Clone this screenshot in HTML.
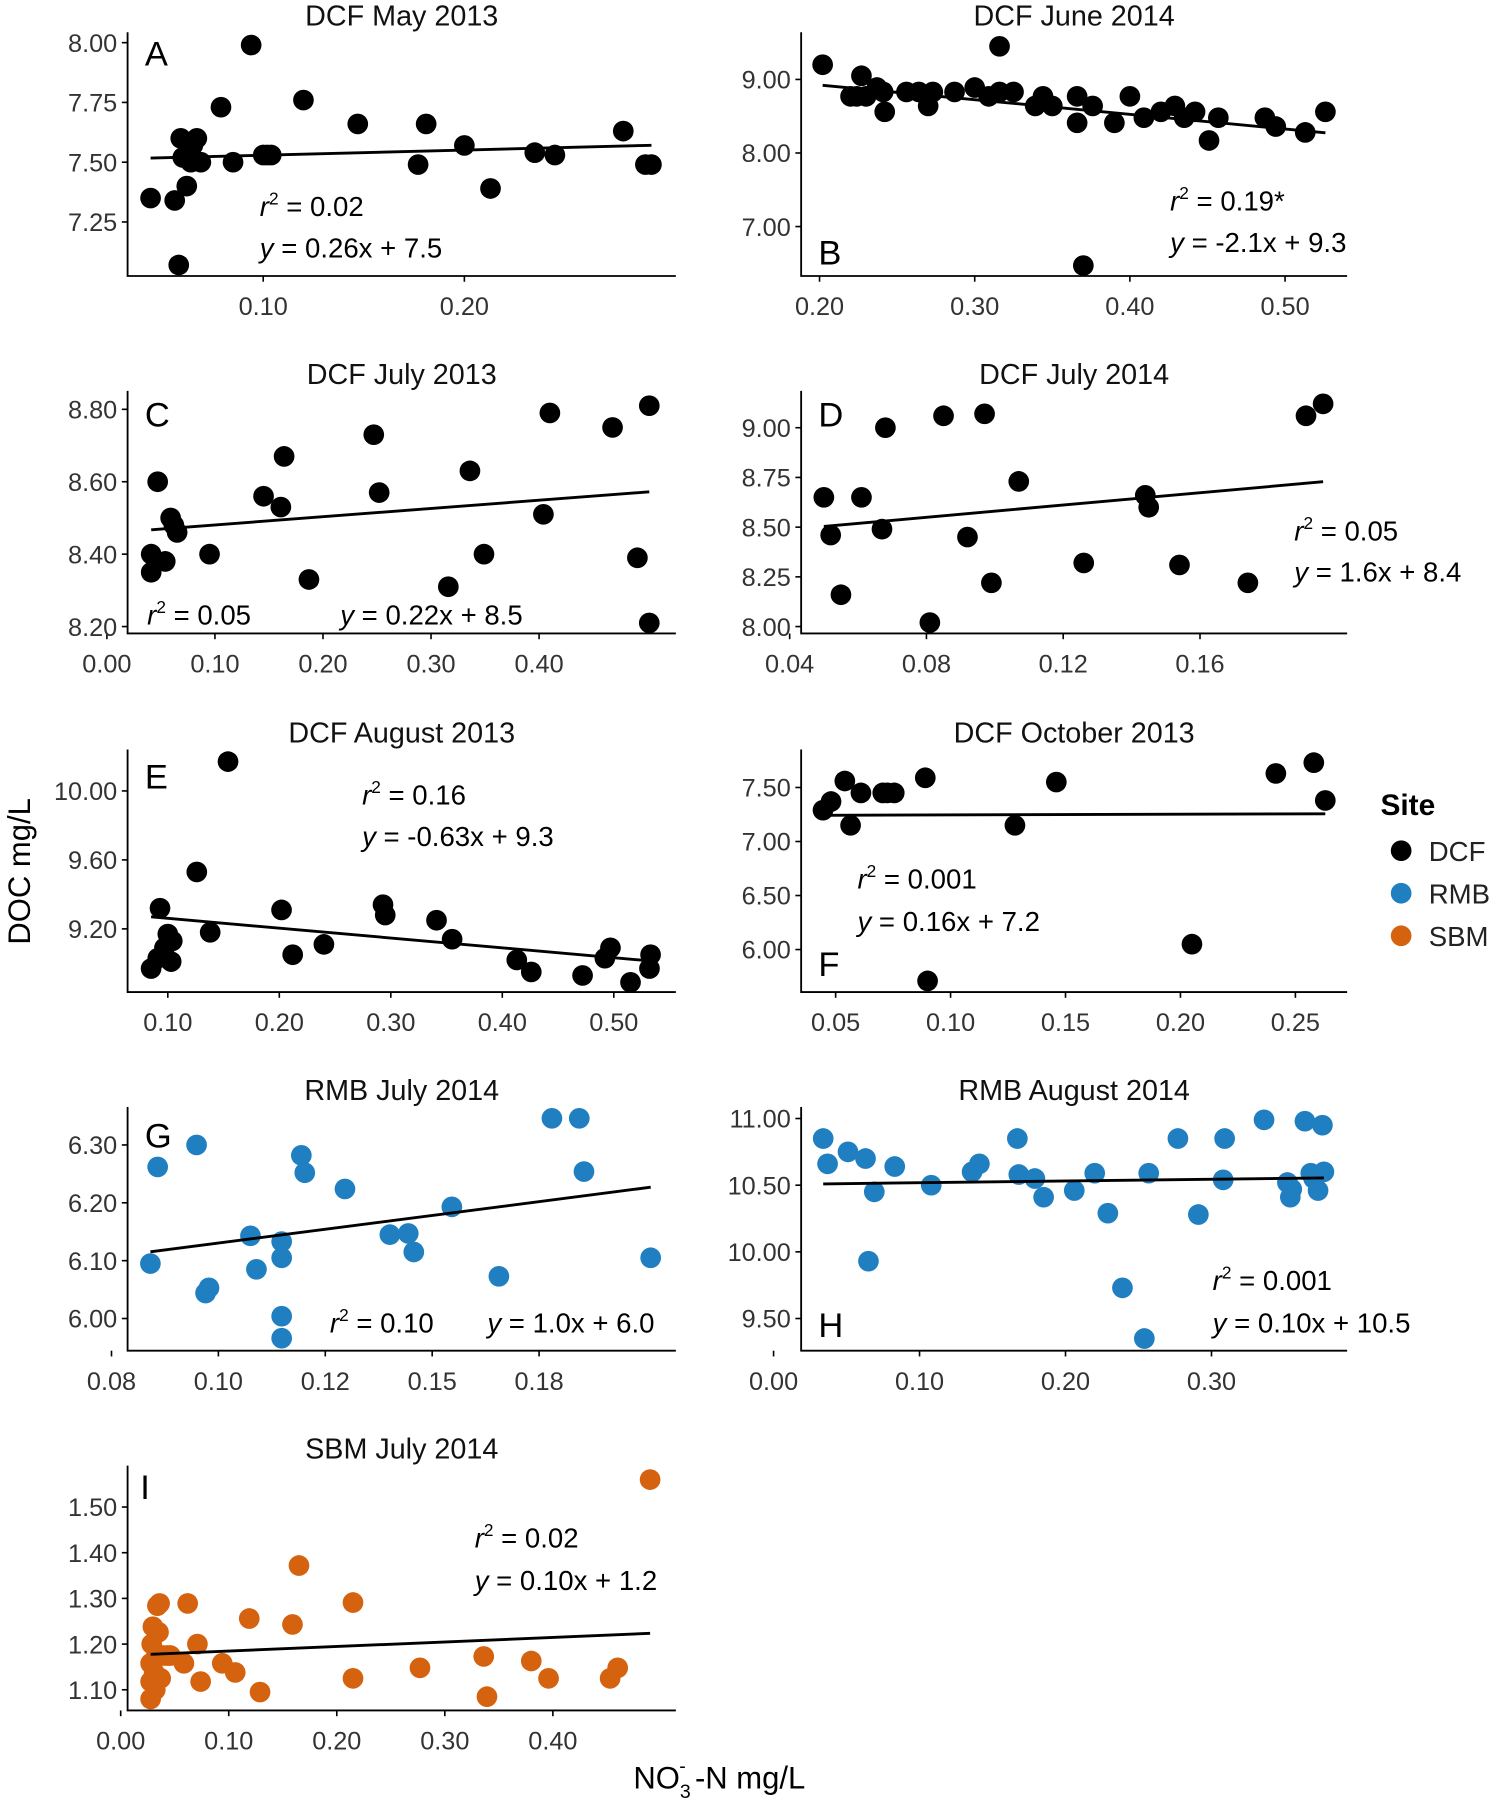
<!DOCTYPE html>
<html><head><meta charset="utf-8">
<style>
html,body{margin:0;padding:0;background:#fff;}
svg{display:block;}
text{font-family:"Liberation Sans",sans-serif;}
</style></head>
<body>
<svg id="fig" width="1500" height="1806" viewBox="0 0 1305 1571" xmlns="http://www.w3.org/2000/svg">
<text x="26" y="758" font-size="27" text-anchor="middle" transform="rotate(-90 26 758)" fill="#000">DOC mg/L</text>
<g>
<text x="551" y="1556" font-size="27" fill="#000">NO<tspan font-size="17" dy="8">3</tspan><tspan font-size="17" dx="-10" dy="-22">-</tspan><tspan dy="14" dx="8">-N mg/L</tspan></text>
</g>
<g>
<text x="1201" y="709" font-size="26" font-weight="bold" fill="#000">Site</text>
<circle cx="1219" cy="740" r="9" fill="#000"/>
<text x="1243" y="749" font-size="24" fill="#222">DCF</text>
<circle cx="1219" cy="777" r="9" fill="#1f7fc0"/>
<text x="1243" y="786" font-size="24" fill="#222">RMB</text>
<circle cx="1219" cy="814" r="9" fill="#d5620f"/>
<text x="1243" y="823" font-size="24" fill="#222">SBM</text>
</g>
</svg>
<script>
// ---- data arrays ----
const aX=[0.044,0.056,0.058,0.059,0.060,0.062,0.064,0.065,0.067,0.069,0.079,0.085,0.094,0.100,0.102,0.104,0.120,0.147,0.177,0.181,0.200,0.213,0.235,0.245,0.279,0.290,0.293];
const aY=[7.35,7.34,7.07,7.60,7.52,7.40,7.50,7.57,7.60,7.50,7.73,7.50,7.99,7.53,7.53,7.53,7.76,7.66,7.49,7.66,7.57,7.39,7.54,7.53,7.63,7.49,7.49];
const bX=[0.202,0.220,0.224,0.227,0.230,0.237,0.241,0.242,0.256,0.264,0.270,0.273,0.287,0.300,0.309,0.316,0.316,0.325,0.339,0.344,0.350,0.366,0.366,0.370,0.376,0.390,0.400,0.409,0.420,0.429,0.435,0.442,0.451,0.457,0.487,0.494,0.513,0.526];
const bY=[9.20,8.77,8.77,9.05,8.77,8.89,8.83,8.56,8.83,8.83,8.64,8.83,8.83,8.89,8.77,9.45,8.83,8.83,8.64,8.77,8.64,8.77,8.41,6.47,8.64,8.41,8.77,8.48,8.56,8.64,8.48,8.56,8.17,8.48,8.48,8.36,8.28,8.56];
const cX=[0.041,0.041,0.047,0.054,0.059,0.062,0.065,0.095,0.145,0.161,0.164,0.187,0.247,0.252,0.316,0.336,0.349,0.404,0.410,0.468,0.491,0.502,0.502];
const cY=[8.40,8.35,8.60,8.38,8.50,8.48,8.46,8.40,8.56,8.53,8.67,8.33,8.73,8.57,8.31,8.63,8.40,8.51,8.79,8.75,8.39,8.81,8.21];
const dX=[0.050,0.052,0.055,0.061,0.067,0.068,0.081,0.085,0.092,0.097,0.099,0.107,0.126,0.144,0.145,0.154,0.174,0.191,0.196];
const dY=[8.65,8.46,8.16,8.65,8.49,9.00,8.02,9.06,8.45,9.07,8.22,8.73,8.32,8.66,8.60,8.31,8.22,9.06,9.12];
const eX=[0.085,0.091,0.093,0.097,0.100,0.103,0.104,0.126,0.138,0.154,0.202,0.212,0.240,0.293,0.295,0.341,0.355,0.413,0.426,0.472,0.492,0.497,0.515,0.532,0.533];
const eY=[8.97,9.03,9.32,9.09,9.17,9.01,9.13,9.53,9.18,10.17,9.31,9.05,9.11,9.34,9.28,9.25,9.14,9.02,8.95,8.93,9.03,9.09,8.89,8.97,9.05];
const fX=[0.0445,0.048,0.054,0.0565,0.061,0.0705,0.0725,0.0755,0.089,0.090,0.128,0.146,0.205,0.2415,0.258,0.263];
const fY=[7.29,7.37,7.56,7.15,7.45,7.45,7.45,7.45,7.59,5.71,7.15,7.55,6.05,7.63,7.73,7.38];
const gX=[0.0841,0.0858,0.0949,0.0970,0.0978,0.1075,0.1089,0.1148,0.1148,0.1148,0.1148,0.1194,0.1202,0.1296,0.1401,0.1444,0.1457,0.1546,0.1656,0.1780,0.1844,0.1855,0.2011];
const gY=[6.095,6.262,6.30,6.044,6.053,6.143,6.085,6.133,6.105,6.004,5.966,6.282,6.252,6.224,6.145,6.147,6.115,6.193,6.073,6.346,6.346,6.254,6.105];
const hX=[0.034,0.037,0.051,0.063,0.065,0.069,0.083,0.108,0.136,0.141,0.167,0.168,0.179,0.185,0.206,0.220,0.229,0.239,0.254,0.257,0.277,0.291,0.308,0.309,0.336,0.352,0.354,0.355,0.364,0.368,0.370,0.373,0.376,0.377];
const hY=[10.85,10.66,10.75,10.70,9.93,10.45,10.64,10.50,10.60,10.66,10.85,10.58,10.55,10.41,10.46,10.59,10.29,9.73,9.35,10.59,10.85,10.28,10.54,10.85,10.99,10.52,10.41,10.47,10.98,10.59,10.55,10.46,10.95,10.60];
const iX=[0.0277,0.0277,0.0277,0.0287,0.0298,0.031,0.032,0.033,0.034,0.035,0.036,0.037,0.039,0.043,0.046,0.0585,0.062,0.071,0.074,0.094,0.106,0.119,0.129,0.159,0.165,0.215,0.215,0.277,0.336,0.339,0.380,0.396,0.453,0.460,0.490];
const iY=[1.08,1.118,1.158,1.20,1.238,1.138,1.10,1.175,1.284,1.226,1.289,1.125,1.175,1.175,1.175,1.158,1.289,1.20,1.118,1.158,1.138,1.256,1.095,1.243,1.372,1.291,1.125,1.148,1.173,1.085,1.163,1.125,1.125,1.148,1.56];

const aXT=[0.10,0.20], aXL=["0.10","0.20"], aYT=[7.25,7.50,7.75,8.00], aYL=["7.25","7.50","7.75","8.00"];
const bXT=[0.20,0.30,0.40,0.50], bXL=["0.20","0.30","0.40","0.50"], bYT=[7,8,9], bYL=["7.00","8.00","9.00"];
const cXT=[0,0.1,0.2,0.3,0.4], cXL=["0.00","0.10","0.20","0.30","0.40"], cYT=[8.2,8.4,8.6,8.8], cYL=["8.20","8.40","8.60","8.80"];
const dXT=[0.04,0.08,0.12,0.16], dXL=["0.04","0.08","0.12","0.16"], dYT=[8,8.25,8.5,8.75,9], dYL=["8.00","8.25","8.50","8.75","9.00"];
const eXT=[0.1,0.2,0.3,0.4,0.5], eXL=["0.10","0.20","0.30","0.40","0.50"], eYT=[9.2,9.6,10], eYL=["9.20","9.60","10.00"];
const fXT=[0.05,0.10,0.15,0.20,0.25], fXL=["0.05","0.10","0.15","0.20","0.25"], fYT=[6,6.5,7,7.5], fYL=["6.00","6.50","7.00","7.50"];
const gXT=[0.075,0.100,0.125,0.150,0.175], gXL=["0.08","0.10","0.12","0.15","0.18"], gYT=[6,6.1,6.2,6.3], gYL=["6.00","6.10","6.20","6.30"];
const hXT=[0,0.1,0.2,0.3], hXL=["0.00","0.10","0.20","0.30"], hYT=[9.5,10,10.5,11], hYL=["9.50","10.00","10.50","11.00"];
const iXT=[0,0.1,0.2,0.3,0.4], iXL=["0.00","0.10","0.20","0.30","0.40"], iYT=[1.1,1.2,1.3,1.4,1.5], iYL=["1.10","1.20","1.30","1.40","1.50"];

const NS="http://www.w3.org/2000/svg";
const svg=document.getElementById('fig');
function mk(tag,attrs,parent){const e=document.createElementNS(NS,tag);for(const k in attrs)e.setAttribute(k,attrs[k]);(parent||svg).appendChild(e);return e;}
function lin(d0,d1,p0,p1){return v=>p0+(v-d0)*(p1-p0)/(d1-d0);}

const BLACK="#000",BLUE="#1f7fc0",ORANGE="#d5620f";
const panels=[
 {id:'a',title:'DCF May 2013',letter:'A',L:111,R:588,T:28,B:240,xs:[0.10,0.20,229,404],ys:[7.50,7.75,141,89],X:aX,Y:aY,xt:aXT,xl:aXL,yt:aYT,yl:aYL,col:BLACK,lp:[126,57],ann:[[226,188,'0.02'],[226,224,'0.26x + 7.5']]},
 {id:'b',title:'DCF June 2014',letter:'B',L:697,R:1172,T:28,B:240,xs:[0.20,0.30,713,848],ys:[8,9,133,69],X:bX,Y:bY,xt:bXT,xl:bXL,yt:bYT,yl:bYL,col:BLACK,lp:[712,230],ann:[[1018,183,'0.19*'],[1018,219,'-2.1x + 9.3']]},
 {id:'c',title:'DCF July 2013',letter:'C',L:111,R:588,T:340,B:551,xs:[0,0.1,93,187],ys:[8.6,8.8,419,356],X:cX,Y:cY,xt:cXT,xl:cXL,yt:cYT,yl:cYL,col:BLACK,lp:[126,371],ann:[[128,543,'0.05'],[296,543,'0.22x + 8.5']],split:true},
 {id:'d',title:'DCF July 2014',letter:'D',L:697,R:1172,T:340,B:551,xs:[0.04,0.08,687,806],ys:[8,9,545,372],X:dX,Y:dY,xt:dXT,xl:dXL,yt:dYT,yl:dYL,col:BLACK,lp:[712,371],ann:[[1126,470,'0.05'],[1126,506,'1.6x + 8.4']]},
 {id:'e',title:'DCF August 2013',letter:'E',L:111,R:588,T:652,B:863,xs:[0.1,0.2,146,243],ys:[9.6,10,748,688],X:eX,Y:eY,xt:eXT,xl:eXL,yt:eYT,yl:eYL,col:BLACK,lp:[126,686],ann:[[315,700,'0.16'],[315,736,'-0.63x + 9.3']]},
 {id:'f',title:'DCF October 2013',letter:'F',L:697,R:1172,T:652,B:863,xs:[0.05,0.10,727,827],ys:[6,7.5,826,685],X:fX,Y:fY,xt:fXT,xl:fXL,yt:fYT,yl:fYL,col:BLACK,lp:[712,849],ann:[[746,773,'0.001'],[746,810,'0.16x + 7.2']]},
 {id:'g',title:'RMB July 2014',letter:'G',L:111,R:588,T:963,B:1175,xs:[0.075,0.100,97,190],ys:[6.0,6.3,1147,996],X:gX,Y:gY,xt:gXT,xl:gXL,yt:gYT,yl:gYL,col:BLUE,lp:[126,998],ann:[[287,1159,'0.10'],[424,1159,'1.0x + 6.0']],split:true},
 {id:'h',title:'RMB August 2014',letter:'H',L:697,R:1172,T:963,B:1175,xs:[0,0.1,673,800],ys:[9.5,11,1147,973],X:hX,Y:hY,xt:hXT,xl:hXL,yt:hYT,yl:hYL,col:BLUE,lp:[712,1163],ann:[[1055,1122,'0.001'],[1055,1159,'0.10x + 10.5']]},
 {id:'i',title:'SBM July 2014',letter:'I',L:111,R:588,T:1275,B:1488,xs:[0,0.1,105,199],ys:[1.1,1.5,1470,1311],X:iX,Y:iY,xt:iXT,xl:iXL,yt:iYT,yl:iYL,col:ORANGE,lp:[122,1304],ann:[[413,1346,'0.02'],[413,1383,'0.10x + 1.2']]}
];

panels.forEach(p=>{
 const g=mk('g',{});
 
 
 const sx=lin(p.xs[0],p.xs[1],p.xs[2],p.xs[3]);
 const sy=lin(p.ys[0],p.ys[1],p.ys[2],p.ys[3]);
 const cx=(p.L+p.R)/2;
 const t=mk('text',{x:cx,y:p.T-6,'font-size':25,'text-anchor':'middle',fill:'#111'},g);t.textContent=p.title;
 
 
 // points
 p.X.forEach((xv,k)=>{
  const c=mk('circle',{cx:sx(xv),cy:sy(p.Y[k]),r:9,fill:p.col},g);
  
  
 });
 // regression (least squares)
 const n=p.X.length;let mx=0,my=0;p.X.forEach((v,k)=>{mx+=v;my+=p.Y[k];});mx/=n;my/=n;
 let sxy=0,sxx=0;p.X.forEach((v,k)=>{sxy+=(v-mx)*(p.Y[k]-my);sxx+=(v-mx)*(v-mx);});
 const sl=sxy/sxx,ic=my-sl*mx;const x0=Math.min(...p.X),x1=Math.max(...p.X);
 const ln=mk('line',{x1:sx(x0),y1:sy(ic+sl*x0),x2:sx(x1),y2:sy(ic+sl*x1),stroke:'#000','stroke-width':2.5},g);
 
 
 // axes
 const ax=mk('path',{d:`M${p.L},${p.T}V${p.B}H${p.R}`,fill:'none',stroke:'#000','stroke-width':1.6},g);
 
 
 p.xt.forEach((v,k)=>{
  const px=sx(v);
  mk('line',{x1:px,y1:p.B,x2:px,y2:p.B+5,stroke:'#000','stroke-width':1.4},g);
  const tl=mk('text',{x:px,y:p.B+34,'font-size':22,'text-anchor':'middle',fill:'#333'},g);tl.textContent=p.xl[k];
  
  
 });
 p.yt.forEach((v,k)=>{
  const py=sy(v);
  mk('line',{x1:p.L-5,y1:py,x2:p.L,y2:py,stroke:'#000','stroke-width':1.4},g);
  const tl=mk('text',{x:p.L-9,y:py+8,'font-size':22,'text-anchor':'end',fill:'#333'},g);tl.textContent=p.yl[k];
  
  
 });
 const lt=mk('text',{x:p.lp[0],y:p.lp[1],'font-size':30,fill:'#000'},g);lt.textContent=p.letter;
 
 
 // annotations
 const r=mk('text',{x:p.ann[0][0],y:p.ann[0][1],'font-size':24,fill:'#000'},g);
 r.innerHTML='<tspan font-style="italic">r</tspan><tspan font-size="15" dy="-10">2</tspan><tspan dy="10"> = '+p.ann[0][2]+'</tspan>';
 
 
 const eq=mk('text',{x:p.ann[1][0],y:p.ann[1][1],'font-size':24,fill:'#000'},g);
 eq.innerHTML='<tspan font-style="italic">y</tspan> = '+p.ann[1][2];
 
 
});
</script>
</body></html>
